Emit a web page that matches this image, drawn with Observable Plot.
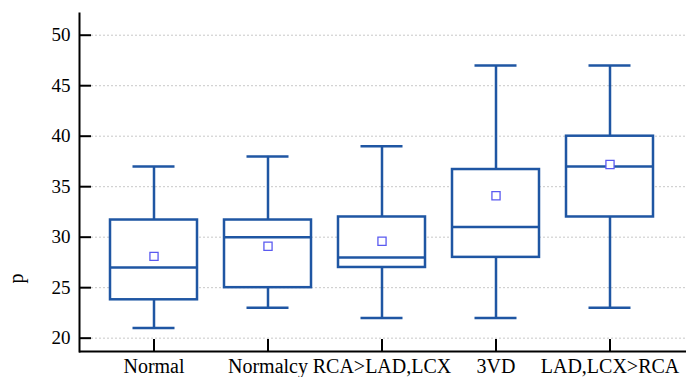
<!DOCTYPE html>
<html>
<head>
<meta charset="utf-8">
<script src="https://cdn.jsdelivr.net/npm/d3@7"></script>
<script src="https://cdn.jsdelivr.net/npm/@observablehq/plot@0.6"></script>
<style>
  html, body { margin: 0; padding: 0; background: #fff; }
  svg { display: block; }
  #chart svg, #chart svg text { font-family: "Liberation Serif", "Times New Roman", serif !important; }
</style>
</head>
<body>
<div id="chart"></div>
<script>
const groups = ["Normal", "Normalcy", "RCA>LAD,LCX", "3VD", "LAD,LCX>RCA"];
const whiskerLow = [21, 23, 22, 22, 23];
const q1 = [23.8, 25, 27, 28, 32];
const median = [27, 30, 28, 31, 37];
const q3 = [31.7, 31.7, 32, 36.7, 40];
const whiskerHigh = [37, 38, 39, 47, 47];
const mean = [28.1, 29.1, 29.6, 34.1, 37.2];
const yTicks = [20, 25, 30, 35, 40, 45, 50];
const yLabel = "p";

const rows = groups.map((g, i) => ({
  g, lo: whiskerLow[i], q1: q1[i], med: median[i], q3: q3[i], hi: whiskerHigh[i], mean: mean[i]
}));

const blue = "#1f56a3";
const W = 686, H = 377, mL = 79, mR = 0, mT = 13, mB = 26;
const innerW = W - mL - mR, innerH = H - mT - mB;

const chart = Plot.plot({
  width: W,
  height: H,
  marginLeft: mL,
  marginRight: mR,
  marginTop: mT,
  marginBottom: mB,
  style: { background: "#fff", color: "#000" },
  x: { type: "band", domain: groups, range: [94.75, 667.25], paddingInner: 0.24, paddingOuter: 0.12, align: 0.5 },
  y: { domain: [18.68, 52.15] },
  marks: [
    Plot.ruleY(yTicks, { stroke: "#c8c8c8", strokeWidth: 1, strokeDasharray: "2,2", insetLeft: 12 }),
    Plot.axisY({ ticks: yTicks, tickSize: 0, tickPadding: 9, fontSize: 19, label: null, fill: "#000" }),
    Plot.axisX({ tickSize: 0, tickPadding: 7, fontSize: 20, label: null, fill: "#000" }),
    Plot.ruleY(yTicks, { stroke: "#000", strokeWidth: 2, insetRight: innerW - 12 }),
    Plot.ruleX(rows, { x: "g", stroke: "#000", strokeWidth: 2, insetTop: innerH - 12 }),
    Plot.ruleX(rows, { x: "g", y1: "q3", y2: "hi", stroke: blue, strokeWidth: 2.5 }),
    Plot.ruleX(rows, { x: "g", y1: "lo", y2: "q1", stroke: blue, strokeWidth: 2.5 }),
    Plot.tickY(rows, { x: "g", y: "hi", stroke: blue, strokeWidth: 2.5, inset: 22.5 }),
    Plot.tickY(rows, { x: "g", y: "lo", stroke: blue, strokeWidth: 2.5, inset: 22.5 }),
    Plot.barY(rows, { x: "g", y1: "q1", y2: "q3", fill: "#fff", stroke: blue, strokeWidth: 2.5 }),
    Plot.tickY(rows, { x: "g", y: "med", stroke: blue, strokeWidth: 2.5 }),
    Plot.dot(rows, { x: "g", y: "mean", symbol: "square", r: 4.6, fill: "#fff", stroke: "#5a5af0", strokeWidth: 1.3 }),
    Plot.ruleY([18.68], { stroke: "#000", strokeWidth: 2 }),
    Plot.frame({ anchor: "left", stroke: "#000", strokeWidth: 2 }),
    Plot.text([yLabel], { frameAnchor: "left", rotate: -90, dx: -63, dy: 101, fontSize: 20, fill: "#000" })
  ]
});
document.getElementById("chart").appendChild(chart);
</script>
</body>
</html>
